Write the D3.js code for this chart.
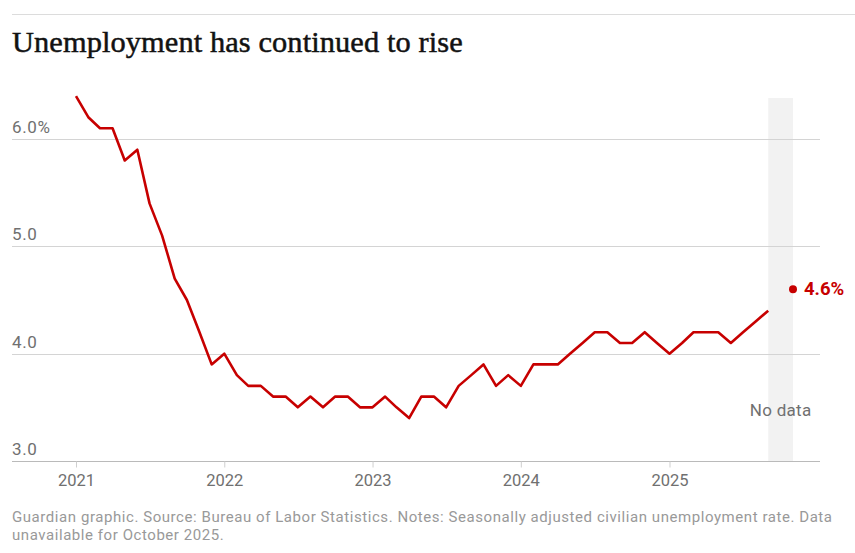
<!doctype html>
<html>
<head>
<meta charset="utf-8">
<script src="https://d3js.org/d3.v7.min.js"></script>
<style>
    body { margin: 0; background: #fff; }
    text { font-family: "Roboto", "Noto Sans", sans-serif; }
</style>
</head>
<body>
<svg id="chart" width="855" height="553"></svg>
<script>
    // monthly unemployment rate, Jan 2021 - Sep 2025 (Oct 2025 missing)
    const months = d3.timeMonths(new Date(2021, 0, 1), new Date(2025, 9, 1));
    const rates = [
        6.4, 6.2, 6.1, 6.1, 5.8, 5.9, 5.4, 5.1, 4.7, 4.5, 4.2, 3.9,
        4.0, 3.8, 3.7, 3.7, 3.6, 3.6, 3.5, 3.6, 3.5, 3.6, 3.6, 3.5,
        3.5, 3.6, 3.5, 3.4, 3.6, 3.6, 3.5, 3.7, 3.8, 3.9, 3.7, 3.8,
        3.7, 3.9, 3.9, 3.9, 4.0, 4.1, 4.2, 4.2, 4.1, 4.1, 4.2, 4.1,
        4.0, 4.1, 4.2, 4.2, 4.2, 4.1, 4.2, 4.3, 4.4
    ];
    const latestDate = new Date(2025, 10, 1);
    const latestRate = 4.6;
    const gapStart = new Date(2025, 8, 1);
    const gapEnd = new Date(2025, 10, 1);
    const yTicks = [3, 4, 5, 6];
    const xTicks = [2021, 2022, 2023, 2024, 2025].map(y => new Date(y, 0, 1));

    const title = "Unemployment has continued to rise";
    const footer = [
        "Guardian graphic. Source: Bureau of Labor Statistics. Notes: Seasonally adjusted civilian unemployment rate. Data",
        "unavailable for October 2025."
    ];

    const red = "#c70000";
    const svg = d3.select('#chart');
    const left = 12, right = 820;

    const x = d3.scaleTime()
        .domain([new Date(2021, 0, 1), latestDate])
        .range([76, 793]);
    const y = d3.scaleLinear()
        .domain([3, 6])
        .range([461, 139]);

    // top rule
    svg.append('line')
        .attr('x1', left).attr('x2', 855)
        .attr('y1', 14.5).attr('y2', 14.5)
        .attr('stroke', '#dcdcdc');

    svg.append('text')
        .text(title)
        .attr('x', left).attr('y', 52)
        .attr('font-size', 30.4)
        .attr('fill', '#121212')
        .attr('stroke', '#121212')
        .attr('stroke-width', 0.5)
        .style('font-family', '"Liberation Serif", "DejaVu Serif", serif')
        .style('letter-spacing', '0.1px');

    // no-data band
    svg.append('rect')
        .attr('x', x(gapStart))
        .attr('width', x(gapEnd) - x(gapStart))
        .attr('y', 98)
        .attr('height', y(3) - 98)
        .attr('fill', '#f2f2f2');

    svg.append('text')
        .text('No data')
        .attr('x', (x(gapStart) + x(gapEnd)) / 2)
        .attr('y', 416)
        .attr('text-anchor', 'middle')
        .attr('font-size', 17)
        .attr('fill', '#707070')
        .style('letter-spacing', '0.3px');

    // gridlines + y labels
    yTicks.forEach(t => {
        svg.append('line')
            .attr('x1', left).attr('x2', right)
            .attr('y1', Math.round(y(t)) + 0.5).attr('y2', Math.round(y(t)) + 0.5)
            .attr('stroke', t == 3 ? '#bababa' : '#d4d4d4');
        svg.append('text')
            .text(t == 6 ? t.toFixed(1) + '%' : t.toFixed(1))
            .attr('x', left).attr('y', y(t) - 6)
            .attr('font-size', 17)
            .attr('fill', '#707070')
            .style('letter-spacing', '0.6px');
    });

    // x axis
    const xAxis = d3.axisBottom(x)
        .tickValues(xTicks)
        .tickFormat(d3.timeFormat('%Y'))
        .tickSize(6)
        .tickPadding(7);
    const gx = svg.append('g')
        .attr('transform', `translate(0,${Math.round(y(3)) + 0.5})`)
        .call(xAxis);
    gx.select('.domain').remove();
    gx.selectAll('.tick line').attr('stroke', '#cfcfcf');
    gx.selectAll('.tick text')
        .attr('font-size', 16.5)
        .attr('fill', '#707070')
        .style('font-family', '"Roboto", "Noto Sans", sans-serif');

    // line
    const line = d3.line()
        .x((d, i) => x(months[i]))
        .y(d => y(d));
    svg.append('path')
        .datum(rates)
        .attr('d', line)
        .attr('fill', 'none')
        .attr('stroke', red)
        .attr('stroke-width', 2.6)
        .attr('stroke-linejoin', 'round');

    // latest point
    svg.append('circle')
        .attr('cx', x(latestDate))
        .attr('cy', y(latestRate))
        .attr('r', 4)
        .attr('fill', red);
    svg.append('text')
        .text(latestRate.toFixed(1) + '%')
        .attr('x', x(latestDate) + 11)
        .attr('y', y(latestRate) + 6)
        .attr('font-size', 18.5)
        .attr('font-weight', 'bold')
        .attr('fill', red);

    // footer
    svg.append('text')
        .selectAll('tspan')
        .data(footer)
        .join('tspan')
        .attr('x', left)
        .attr('y', (d, i) => 522 + i * 18)
        .text(d => d)
        .attr('font-size', 15)
        .attr('fill', '#999')
        .style('letter-spacing', '0.56px');
</script>
</body>
</html>
